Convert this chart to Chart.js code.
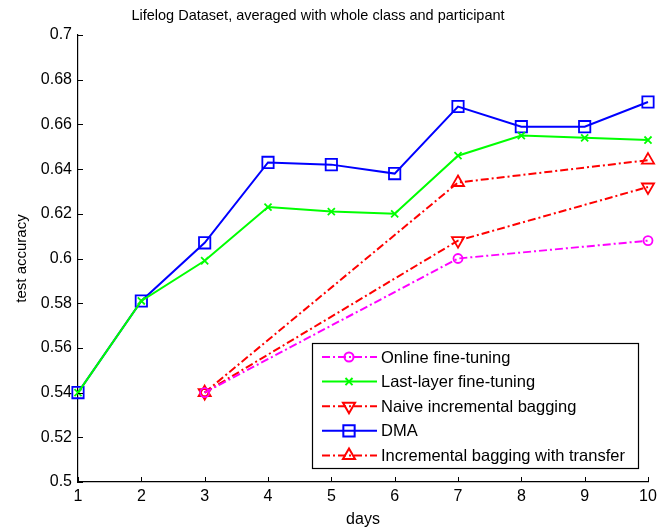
<!DOCTYPE html>
<html>
<head>
<meta charset="utf-8">
<script src="https://cdn.jsdelivr.net/npm/chart.js@4.4.1/dist/chart.umd.min.js"></script>
<style>
  body { margin: 0; background: #fff; }
  #wrap { width: 667px; height: 530px; position: relative; }
</style>
</head>
<body>
<div id="wrap"><canvas id="lifelogChart"></canvas></div>
<script>
// days on the x axis
const days = [1, 2, 3, 4, 5, 6, 7, 8, 9, 10];
const laterDays = [3, 7, 10];

// test accuracy
const onlineFineTuning = [0.540, 0.600, 0.608];
const lastLayerFineTuning = [0.540, 0.581, 0.599, 0.623, 0.621, 0.620, 0.646, 0.655, 0.654, 0.653];
const naiveBagging = [0.540, 0.608, 0.632];
const dma = [0.540, 0.581, 0.607, 0.643, 0.642, 0.638, 0.668, 0.659, 0.659, 0.670];
const baggingTransfer = [0.540, 0.634, 0.644];

const xTicks = [1, 2, 3, 4, 5, 6, 7, 8, 9, 10];
const yTicks = [0.5, 0.52, 0.54, 0.56, 0.58, 0.6, 0.62, 0.64, 0.66, 0.68, 0.7];

const FONT = 'Arial, "Liberation Sans", sans-serif';
const dashDot = [8, 3, 2, 3];

function toPoints(xs, ys) {
  return xs.map((x, i) => ({ x: x, y: ys[i] }));
}

// MATLAB style: ticks pointing inwards, legend box inside the axes, title on top
const matlabStyle = {
  id: 'matlabStyle',
  afterDraw(chart) {
    const ctx = chart.ctx;
    const area = chart.chartArea;
    const xs = chart.scales.x;
    const ys = chart.scales.y;

    ctx.save();
    ctx.strokeStyle = '#000';
    ctx.lineWidth = 1;
    ctx.beginPath();
    xs.ticks.forEach(t => {
      const px = Math.round(xs.getPixelForValue(t.value)) + 0.5;
      ctx.moveTo(px, area.bottom);
      ctx.lineTo(px, area.bottom - 5);
    });
    ys.ticks.forEach(t => {
      const py = Math.round(ys.getPixelForValue(t.value)) + 0.5;
      ctx.moveTo(area.left, py);
      ctx.lineTo(area.left + 5, py);
    });
    ctx.stroke();

    // title
    ctx.fillStyle = '#000';
    ctx.font = '14.5px ' + FONT;
    ctx.textAlign = 'center';
    ctx.textBaseline = 'middle';
    ctx.fillText('Lifelog Dataset, averaged with whole class and participant', 318, 16);

    // legend
    const box = { x: 312.5, y: 343.5, w: 326, h: 125 };
    ctx.fillStyle = '#fff';
    ctx.fillRect(box.x, box.y, box.w, box.h);
    ctx.strokeStyle = '#000';
    ctx.lineWidth = 1.2;
    ctx.strokeRect(box.x, box.y, box.w, box.h);

    ctx.font = '16.5px ' + FONT;
    ctx.textAlign = 'left';
    chart.data.datasets.forEach((ds, i) => {
      const cy = 357 + i * 24.6;
      ctx.save();
      ctx.strokeStyle = ds.borderColor;
      ctx.lineWidth = ds.borderWidth;
      ctx.setLineDash(ds.borderDash || []);
      ctx.beginPath();
      ctx.moveTo(322, cy);
      ctx.lineTo(377, cy);
      ctx.stroke();
      ctx.setLineDash([]);
      ctx.fillStyle = 'rgba(0,0,0,0)';
      Chart.helpers.drawPoint(ctx, {
        pointStyle: ds.pointStyle,
        radius: ds.pointRadius,
        rotation: ds.pointRotation || 0,
        borderWidth: ds.pointBorderWidth
      }, 349, cy);
      ctx.restore();
      ctx.fillStyle = '#000';
      ctx.fillText(ds.label, 381, cy + 1);
    });
    ctx.restore();
  }
};

const ctx = document.getElementById('lifelogChart').getContext('2d');

new Chart(ctx, {
  type: 'line',
  data: {
    datasets: [
      {
        label: 'Online fine-tuning',
        data: toPoints(laterDays, onlineFineTuning),
        borderColor: '#ff00ff',
        borderWidth: 2,
        borderDash: dashDot,
        pointStyle: 'circle',
        pointRadius: 4.5,
        pointBorderWidth: 1.8,
        pointBorderColor: '#ff00ff',
        pointBackgroundColor: 'rgba(0,0,0,0)'
      },
      {
        label: 'Last-layer fine-tuning',
        data: toPoints(days, lastLayerFineTuning),
        borderColor: '#00ff00',
        borderWidth: 2,
        pointStyle: 'crossRot',
        pointRadius: 5,
        pointBorderWidth: 1.8,
        pointBorderColor: '#00ff00',
        pointBackgroundColor: 'rgba(0,0,0,0)'
      },
      {
        label: 'Naive incremental bagging',
        data: toPoints(laterDays, naiveBagging),
        borderColor: '#ff0000',
        borderWidth: 2,
        borderDash: dashDot,
        pointStyle: 'triangle',
        pointRotation: 180,
        pointRadius: 7,
        pointBorderWidth: 1.8,
        pointBorderColor: '#ff0000',
        pointBackgroundColor: 'rgba(0,0,0,0)'
      },
      {
        label: 'DMA',
        data: toPoints(days, dma),
        borderColor: '#0000ff',
        borderWidth: 2,
        pointStyle: 'rect',
        pointRadius: 8,
        pointBorderWidth: 1.8,
        pointBorderColor: '#0000ff',
        pointBackgroundColor: 'rgba(0,0,0,0)'
      },
      {
        label: 'Incremental bagging with transfer',
        data: toPoints(laterDays, baggingTransfer),
        borderColor: '#ff0000',
        borderWidth: 2,
        borderDash: dashDot,
        pointStyle: 'triangle',
        pointRadius: 7,
        pointBorderWidth: 1.8,
        pointBorderColor: '#ff0000',
        pointBackgroundColor: 'rgba(0,0,0,0)'
      }
    ]
  },
  options: {
    responsive: true,
    maintainAspectRatio: false,
    animation: false,
    layout: {
      padding: { left: 0, right: 19, top: 35, bottom: 0 }
    },
    elements: {
      line: { tension: 0, fill: false }
    },
    datasets: {
      line: { clip: false }
    },
    plugins: {
      legend: { display: false },
      title: { display: false },
      tooltip: { enabled: false }
    },
    scales: {
      x: {
        type: 'linear',
        min: 1,
        max: 10,
        afterBuildTicks: scale => { scale.ticks = xTicks.map(v => ({ value: v })); },
        afterFit: scale => { scale.height = 48; },
        grid: { display: false, drawTicks: false },
        border: { display: true, color: '#000', width: 1.2 },
        ticks: {
          color: '#000',
          padding: 5,
          font: { family: FONT, size: 16 },
          maxRotation: 0
        },
        title: {
          display: true,
          text: 'days',
          color: '#000',
          font: { family: FONT, size: 16 },
          padding: { top: 0, bottom: 1 }
        }
      },
      y: {
        min: 0.5,
        max: 0.7,
        afterBuildTicks: scale => { scale.ticks = yTicks.map(v => ({ value: v })); },
        afterFit: scale => { scale.width = 78; },
        grid: { display: false, drawTicks: false },
        border: { display: true, color: '#000', width: 1.2 },
        ticks: {
          color: '#000',
          padding: 6,
          font: { family: FONT, size: 16 },
          callback: v => String(Number(v.toFixed(2)))
        },
        title: {
          display: true,
          text: 'test accuracy',
          color: '#000',
          font: { family: FONT, size: 15 },
          padding: { top: 13, bottom: 0 }
        }
      }
    }
  },
  plugins: [matlabStyle]
});
</script>
</body>
</html>
